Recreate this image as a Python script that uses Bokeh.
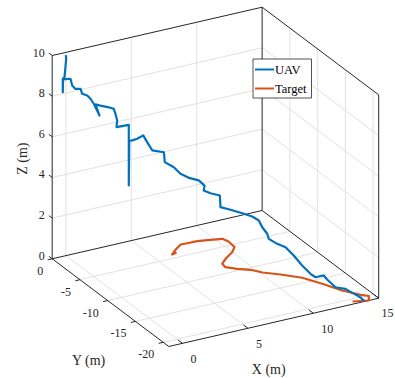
import numpy as np
from bokeh.plotting import figure
from bokeh.models import Range1d, Label
from bokeh.embed import file_html
from bokeh.resources import INLINE

# ---------------- data (metres) ----------------
uav_x = [-0.01, 0.02, -0.06, -0.11, -0.24, -0.24, -0.22, 0.25, 0.33, 0.48, 0.72, 0.79,
         1.03, 1.18, 1.33, 1.60, 1.41, 1.64, 2.03, 2.26, 2.34, 2.42, 2.39, 2.96, 2.96,
         2.98, 3.12, 3.35, 3.63, 3.81, 4.05, 4.59, 4.63, 5.05, 5.36, 5.75, 6.21, 6.48,
         6.44, 6.75, 7.19, 7.22, 7.68, 8.23, 8.69, 9.00, 9.16, 9.39, 9.46, 9.85, 10.24,
         10.62, 11.01, 11.40, 11.63, 12.02, 12.17, 12.56, 13.02, 13.34, 13.64, 13.87, 13.90]
uav_y = [0.0, 0.0, 0.0, 0.0, 0.0, 0.0, 0.0, -0.23, -0.35, -0.58, -0.94, -1.06,
         -1.41, -1.64, -1.88, -2.28, -2.00, -2.35, -2.94, -3.29, -3.41, -3.53, -3.48, -4.35, -4.35,
         -4.38, -4.59, -4.95, -5.37, -5.65, -6.01, -6.83, -6.90, -7.53, -8.01, -8.59, -9.30, -9.70,
         -9.65, -10.13, -10.78, -10.83, -11.54, -12.37, -13.07, -13.54, -13.78, -14.13, -14.25, -14.84, -15.43,
         -16.01, -16.61, -17.19, -17.55, -18.13, -18.37, -18.96, -19.67, -20.14, -20.61, -20.96, -21.00]
uav_z = [9.87, 9.68, 9.12, 8.79, 8.73, 8.07, 8.70, 8.71, 8.39, 8.25, 8.29, 8.06,
         8.01, 7.88, 7.66, 7.12, 7.64, 7.62, 7.60, 7.56, 7.33, 7.01, 6.68, 6.89, 3.91,
         6.12, 6.15, 6.27, 6.48, 6.18, 5.81, 5.81, 5.33, 5.15, 4.88, 4.74, 4.69, 4.48,
         4.23, 4.15, 4.11, 3.54, 3.49, 3.41, 3.32, 3.18, 2.87, 2.59, 2.35, 2.17, 2.07,
         1.72, 1.30, 0.95, 0.82, 0.97, 0.80, 0.48, 0.48, 0.33, 0.22, 0.05, 0.00]

target_x = [6.72, 6.31, 6.87, 7.58, 8.07, 8.81, 9.70, 10.46, 10.62, 10.54, 10.00, 9.10, 8.51,
            8.44, 9.00, 9.70, 10.20, 11.09, 12.11, 12.81, 13.46, 14.20, 14.59, 14.24, 13.21]
target_y = [-4.09, -4.27, -3.55, -2.79, -2.84, -2.89, -3.20, -3.51, -4.27, -5.53, -6.38, -7.31, -8.09,
            -8.85, -9.64, -10.38, -11.39, -12.51, -14.03, -15.98, -18.05, -19.61, -20.18, -21.00, -20.50]
target_z = [0.0, 0.0, 0.0, 0.0, 0.0, 0.0, 0.0, 0.0, 0.0, 0.0, 0.0, 0.0, 0.0,
            0.0, 0.0, 0.0, 0.0, 0.0, 0.0, 0.0, 0.0, 0.0, 0.0, 0.0, 0.0]

series_names = ["UAV", "Target"]
series_colors = ["#0072BD", "#D95319"]

x_ticks = [0, 5, 10, 15]
y_ticks = [-20, -15, -10, -5, 0]
z_ticks = [0, 2, 4, 6, 8, 10]
x_lim = (-1.05, 15.0)
y_lim = (-21.0, 0.0)
z_lim = (0.0, 10.0)
x_label, y_label, z_label = "X (m)", "Y (m)", "Z (m)"

# ---------------- view: orthographic projection into pixels ----------------
W, H = 395, 378
ORIGIN = (51.7, 258.3)      # screen position of (x_min, y_max, z_min)
EX = (13.08, -3.01)         # screen shift per +1 in x
EY = (-5.552, -4.176)       # screen shift per +1 in y
EZ = (0.0, -20.33)          # screen shift per +1 in z


def proj(x, y, z):
    x = np.asarray(x, dtype=float) - x_lim[0]
    y = np.asarray(y, dtype=float) - y_lim[1]
    z = np.asarray(z, dtype=float) - z_lim[0]
    sx = ORIGIN[0] + x * EX[0] + y * EY[0] + z * EZ[0]
    sy = ORIGIN[1] + x * EX[1] + y * EY[1] + z * EZ[1]
    return sx, sy


def segs(pairs):
    xs, ys = [], []
    for a, b in pairs:
        sx, sy = proj([a[0], b[0]], [a[1], b[1]], [a[2], b[2]])
        xs.append(list(sx))
        ys.append(list(sy))
    return xs, ys


x0, x1 = x_lim
y0, y1 = y_lim
z0, z1 = z_lim

p = figure(width=W, height=H, x_range=Range1d(0, W), y_range=Range1d(H, 0),
           output_backend="svg", toolbar_location=None, min_border=0)
p.axis.visible = False
p.grid.visible = False
p.outline_line_color = None
p.background_fill_color = "white"
p.border_fill_color = "white"

# ---- grid lines on the three back planes ----
grid = []
for xv in x_ticks:
    if x0 < xv < x1:
        grid.append(((xv, y0, z0), (xv, y1, z0)))      # floor
        grid.append(((xv, y1, z0), (xv, y1, z1)))      # back wall
for yv in y_ticks:
    if y0 < yv < y1:
        grid.append(((x0, yv, z0), (x1, yv, z0)))      # floor
        grid.append(((x1, yv, z0), (x1, yv, z1)))      # right wall
for zv in z_ticks:
    if z0 < zv < z1:
        grid.append(((x0, y1, zv), (x1, y1, zv)))      # back wall
        grid.append(((x1, y0, zv), (x1, y1, zv)))      # right wall
gx, gy = segs(grid)
p.multi_line(gx, gy, line_color="#dedede", line_width=0.9)

# ---- box edges and axes ----
box = [((x0, y1, z0), (x1, y1, z0)), ((x1, y1, z0), (x1, y0, z0)),
       ((x1, y1, z0), (x1, y1, z1)), ((x1, y0, z0), (x1, y0, z1)),
       ((x0, y1, z1), (x1, y1, z1)), ((x1, y1, z1), (x1, y0, z1)),
       ((x0, y1, z0), (x0, y1, z1)), ((x0, y0, z0), (x0, y1, z0)),
       ((x0, y0, z0), (x1, y0, z0))]
bx, by = segs(box)
p.multi_line(bx, by, line_color="#262626", line_width=1.0)

# ---- ticks ----
ticks = []
for zv in z_ticks:
    ticks.append(((x0, y1, zv), (x0, y1 + 0.6, zv)))
for yv in y_ticks:
    ticks.append(((x0, yv, z0), (x0 - 0.35, yv, z0)))
for xv in x_ticks:
    ticks.append(((xv, y0, z0), (xv, y0 + 0.8, z0)))
tx, ty = segs(ticks)
p.multi_line(tx, ty, line_color="#262626", line_width=1.0)

FONT = "Liberation Serif"
TCOL = "#262626"

for zv in z_ticks:
    sx, sy = proj(x0, y1, zv)
    p.add_layout(Label(x=float(sx) - 7.5, y=float(sy) - 3, text=str(zv), text_align="right",
                       text_baseline="middle", text_font=FONT, text_font_size="12px",
                       text_color=TCOL))
for yv in y_ticks:
    sx, sy = proj(x0, yv, z0)
    p.add_layout(Label(x=float(sx) - 9, y=float(sy) + 12, text=str(yv), text_align="right",
                       text_baseline="middle", text_font=FONT, text_font_size="12px",
                       text_color=TCOL))
for xv in x_ticks:
    sx, sy = proj(xv, y0, z0)
    lx = min(float(sx) + 8, W - 14)
    p.add_layout(Label(x=lx, y=float(sy) + 15.3, text=str(xv), text_align="left",
                       text_baseline="middle", text_font=FONT, text_font_size="12px",
                       text_color=TCOL))

# axis titles
sx, sy = proj(x0, y1, (z0 + z1) / 2)
p.add_layout(Label(x=float(sx) - 29.7, y=float(sy) + 1.5, text=z_label, angle=np.pi / 2,
                   text_align="center", text_baseline="middle", text_font=FONT,
                   text_font_size="14px", text_color=TCOL))
sx, sy = proj(x0, (y0 + y1) / 2, z0)
p.add_layout(Label(x=float(sx) - 21.7, y=float(sy) + 57.8, text=y_label,
                   text_align="center", text_baseline="middle", text_font=FONT,
                   text_font_size="14px", text_color=TCOL))
sx, sy = proj((x0 + x1) / 2, y0, z0)
p.add_layout(Label(x=float(sx) - 5, y=float(sy) + 47.2, text=x_label,
                   text_align="center", text_baseline="middle", text_font=FONT,
                   text_font_size="14px", text_color=TCOL))

# ---- data lines ----
tsx, tsy = proj(target_x, target_y, target_z)
p.line(tsx, tsy, line_color=series_colors[1], line_width=2.2, line_join="round")
usx, usy = proj(uav_x, uav_y, uav_z)
p.line(usx, usy, line_color=series_colors[0], line_width=2.2, line_join="round")

# ---- legend ----
LEG_L, LEG_R, LEG_T, LEG_B = 252.5, 311.0, 58.5, 97.5
p.quad(left=[LEG_L], right=[LEG_R], top=[LEG_T], bottom=[LEG_B], fill_color="white",
       line_color="#262626", line_width=0.8)
for i, (name, col) in enumerate(zip(series_names, series_colors)):
    yy = 69.0 + 19.0 * i
    p.line([LEG_L + 2.0, LEG_L + 21.0], [yy, yy], line_color=col, line_width=2.0)
    p.add_layout(Label(x=LEG_L + 22.0, y=yy, text=name, text_align="left",
                       text_baseline="middle", text_font=FONT, text_font_size="12.5px",
                       text_color="black"))

open("out.html", "w").write(file_html(p, INLINE))
